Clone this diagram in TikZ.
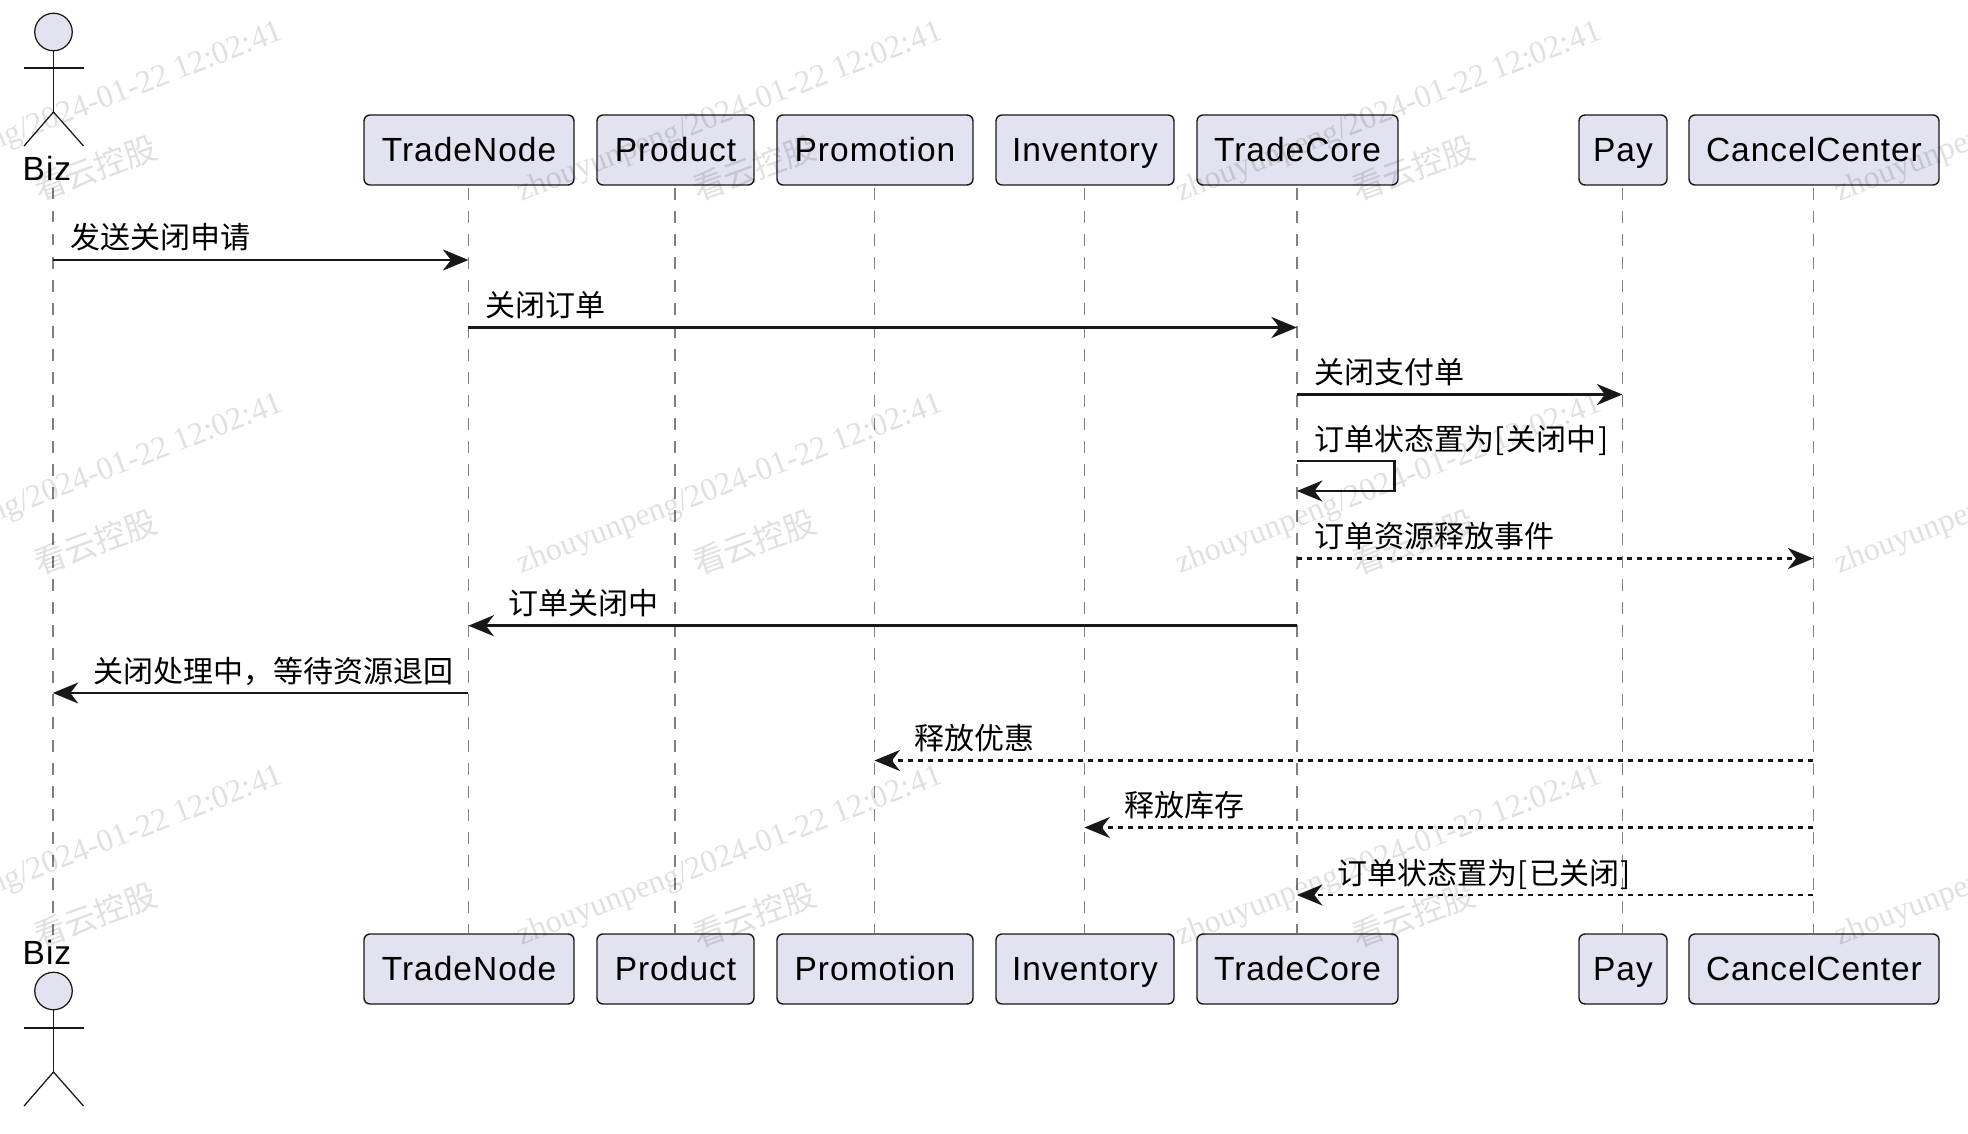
\documentclass[tikz,border=0pt]{standalone}
\usepackage{fontspec}
\setmainfont{Noto Sans CJK SC}
\newfontfamily\wmserif{Liberation Serif}
\newfontfamily\partsans[LetterSpace=3]{Liberation Sans}
\usetikzlibrary{arrows.meta}
\definecolor{boxfill}{HTML}{E2E2F0}
\definecolor{ink}{HTML}{181818}
\newcommand{\msgfont}{\fontsize{30}{36}\selectfont}
\newcommand{\boxfont}{\partsans\fontsize{33.5}{38}\selectfont}
\tikzset{
  x=1pt,y=-1pt,
  partbox/.style={draw=ink,fill=boxfill,line width=1.4pt,rounded corners=6pt,minimum height=70pt,inner sep=0pt,font=\boxfont,text=black,text height=23.3pt,text depth=0pt},
  lifeline/.style={draw=ink!55,line width=1.8pt,dash pattern=on 11.5pt off 11.5pt},
  msg/.style={draw=ink,line width=2.5pt,-{Stealth[length=25.5pt,width=21pt,inset=8pt]}},
  dotmsg/.style={msg,dash pattern=on 5pt off 5pt},
  msglabel/.style={anchor=base west,inner sep=0pt,font=\msgfont,text=black},
  actorline/.style={draw=ink,line width=1.25pt},
  wmlat/.style={text=black,opacity=.12,inner sep=0pt,rotate=21,font=\wmserif\fontsize{32}{36}\selectfont},
  wmcjk/.style={text=black,opacity=.12,inner sep=0pt,rotate=20,font=\fontsize{32}{38}\selectfont}
}
\begin{document}
\begin{tikzpicture}
\useasboundingbox (0,0) rectangle (1968,1134);
\clip (0,0) rectangle (1968,1134);
% participant boxes
\foreach \nm/\txt/\cx/\w in {TN/TradeNode/469/210, PR/Product/675.5/157, PM/Promotion/875/196, IN/Inventory/1085/178, TC/TradeCore/1297.5/201, PY/Pay/1623/88, CC/CancelCenter/1814/250}{
  \node[partbox,minimum width=\w pt] (\nm top) at (\cx,150) {\txt};
  \node[partbox,minimum width=\w pt] (\nm bot) at (\cx,969) {\txt};
  \coordinate (\nm a) at ([xshift=-0.6pt,yshift=-2.5pt]\nm top.south);
  \coordinate (\nm b) at ([xshift=-0.6pt]\nm bot.north);
}
% actors
\node[anchor=base,inner sep=0pt,font=\boxfont,text=black] (BizTopLabel) at (47,180.5) {Biz};
\node[anchor=base,inner sep=0pt,font=\boxfont,text=black] (BizBotLabel) at (47,964) {Biz};
\coordinate (BIa) at (52.8,188);
\coordinate (BIb) at (52.8,935);
\foreach \nm/\hy/\ay/\by/\ly in {A/32/68/112/146, B/991/1028/1072/1106}{
  \node[draw=ink,fill=boxfill,line width=1.25pt,circle,minimum size=37.5pt,inner sep=0pt] (head\nm) at (53.5,\hy) {};
  \coordinate (arml\nm) at (24,\ay);
  \coordinate (armr\nm) at (83.5,\ay);
  \coordinate (hip\nm) at (53.5,\by);
  \coordinate (legl\nm) at (24,\ly);
  \coordinate (legr\nm) at (83.5,\ly);
  \draw[actorline] (head\nm.south) -- (hip\nm);
  \draw[actorline] (arml\nm) -- (armr\nm);
  \draw[actorline] (legl\nm) -- (hip\nm) -- (legr\nm);
}
% lifelines
\foreach \nm in {BI,TN,PR,PM,IN,TC,PY,CC}{
  \draw[lifeline] (\nm a) -- (\nm b);
}
% messages
\foreach \i/\a/\b/\y in {1/BIa/TNa/260, 2/TNa/TCa/327.5, 3/TCa/PYa/394.5, 6/TCa/TNa/625.7, 7/TNa/BIa/693}{
  \coordinate (m\i s) at (\a |- 0,\y);
  \coordinate (m\i e) at (\b |- 0,\y);
  \draw[msg] (m\i s) -- (m\i e);
}
\foreach \i/\a/\b/\y in {5/TCa/CCa/558.5, 8/CCa/PMa/760.5, 9/CCa/INa/827.5, 10/CCa/TCa/895}{
  \coordinate (m\i s) at (\a |- 0,\y);
  \coordinate (m\i e) at (\b |- 0,\y);
  \draw[dotmsg] (m\i s) -- (m\i e);
}
\coordinate (m4s) at (TCa |- 0,461);
\coordinate (m4e) at (TCa |- 0,491);
\coordinate (m4r) at (1394.5,461);
\coordinate (m4q) at (1394.5,491);
\draw[msg] (m4s) -- (m4r) -- (m4q) -- (m4e);
% labels
\node[msglabel] (l1) at (70.5,249) {发送关闭申请};
\node[msglabel] (l2) at (485.5,316.5) {关闭订单};
\node[msglabel] (l3) at (1314,383.5) {关闭支付单};
\node[msglabel] (l4) at (1314,450) {订单状态置为[\kern2pt 关闭中\kern2pt ]};
\node[msglabel] (l5) at (1314,547.5) {订单资源释放事件};
\node[msglabel] (l6) at (508,614.7) {订单关闭中};
\node[msglabel] (l7) at (93.5,682) {关闭处理中，等待资源退回};
\node[msglabel] (l8) at (914.5,749) {释放优惠};
\node[msglabel] (l9) at (1124.5,816.5) {释放库存};
\node[msglabel] (l10) at (1337,884) {订单状态置为[\kern2pt 已关闭\kern1pt ]};
% watermarks
\foreach \cx [count=\c] in {71,730,1389,2048}{
  \foreach \cy [count=\r] in {113,485,857,1229}{
    \node[wmlat] (wa\c\r) at (\cx,\cy) {zhouyunpeng/2024-01-22 12:02:41};
  }
  \foreach \cy [count=\r] in {168,542,915}{
    \pgfmathsetmacro{\kx}{\cx+24}
    \node[wmcjk] (wb\c\r) at (\kx,\cy) {看云控股};
  }
}
\end{tikzpicture}
\end{document}
